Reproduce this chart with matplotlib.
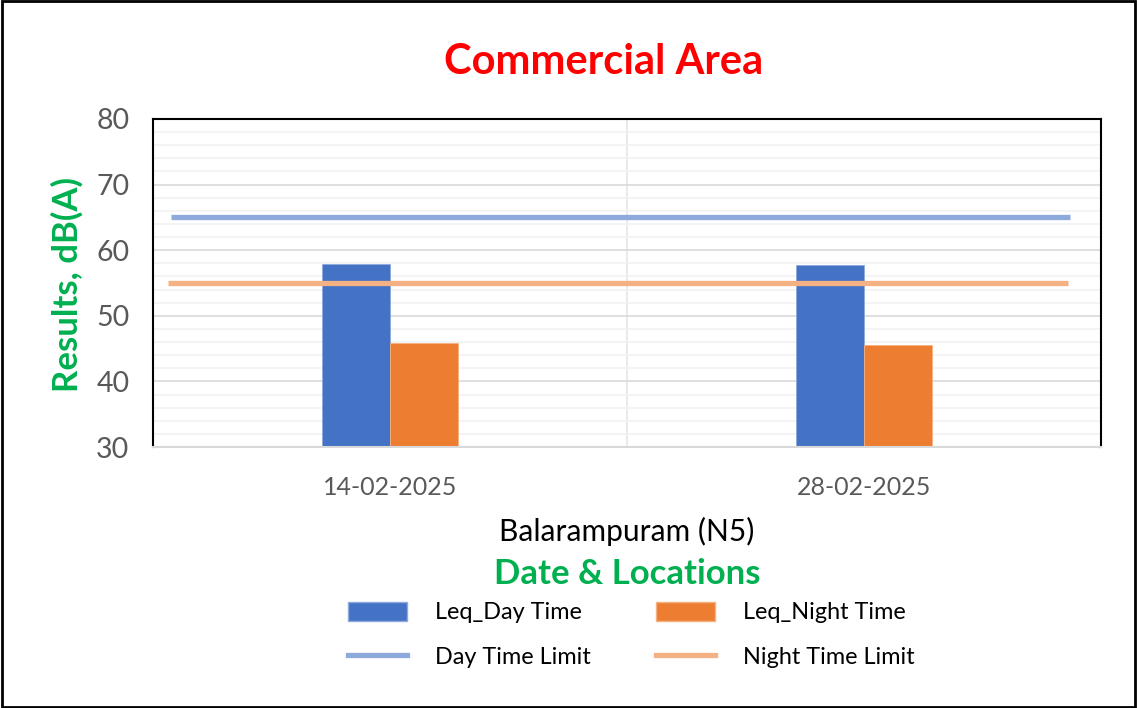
import matplotlib
matplotlib.use("Agg")
import matplotlib.pyplot as plt
from matplotlib.patches import Rectangle, Patch
from matplotlib.lines import Line2D

plt.rcParams['font.family'] = ['Lato', 'DejaVu Sans']

categories = ["14-02-2025", "28-02-2025"]
leq_day = [57.9, 57.7]
leq_night = [45.8, 45.6]
day_limit = 65
night_limit = 55
location = "Balarampuram (N5)"

fig = plt.figure(figsize=(11.37, 7.08), dpi=100)
ax = fig.add_axes([153/1137, 1-447/708, (1101-153)/1137, (447-119)/708])

x = list(range(len(categories)))
w = 0.1435
ax.bar([i - w for i in x], leq_day, width=w, align='edge', color='#4472C4',
       edgecolor='#8FAADC', linewidth=0.6, zorder=2)
ax.bar(x, leq_night, width=w, align='edge', color='#ED7D31',
       edgecolor='#F4B183', linewidth=0.6, zorder=2)
ax.plot([-0.462, 1.435], [day_limit, day_limit], color='#8EA9DB', lw=3.8, zorder=3,
        solid_capstyle='butt')
ax.plot([-0.468, 1.431], [night_limit, night_limit], color='#F4B183', lw=3.8, zorder=3,
        solid_capstyle='butt')

ax.set_xlim(-0.5, 1.5)
ax.set_ylim(30, 80)
ax.set_yticks(range(30, 81, 10))
ax.set_yticks(range(30, 81, 2), minor=True)
ax.set_xticks(x)
ax.set_xticklabels(categories)
ax.set_xticks([0.5], minor=True)
ax.tick_params(axis='y', which='both', length=0, pad=17, labelsize=20.5, labelcolor='#595959')
ax.tick_params(axis='x', which='both', length=0, pad=21, labelsize=18, labelcolor='#595959')
ax.yaxis.grid(True, which='minor', color='#F2F2F2', lw=1.2, zorder=0)
ax.yaxis.grid(True, which='major', color='#D9D9D9', lw=1.2, zorder=0)
ax.xaxis.grid(True, which='minor', color='#E6E6E6', lw=1.2, zorder=0)
ax.set_axisbelow(True)
for s in ['top', 'left', 'right']:
    ax.spines[s].set_color('black')
    ax.spines[s].set_linewidth(1.5)
ax.spines['bottom'].set_color('#D9D9D9')
ax.spines['bottom'].set_linewidth(1.5)

fig.text(604/1137, 1-62/708, "Commercial Area", color='#FF0000', fontsize=30,
         fontweight='bold', ha='center', va='center')
fig.text(67/1137, 1-285/708, "Results, dB(A)", color='#00B050', fontsize=25,
         fontweight='bold', rotation=90, ha='center', va='center')
fig.text(627/1137, 1-531/708, location, color='black', fontsize=21.5,
         ha='center', va='center')
fig.text(627/1137, 1-574/708, "Date & Locations", color='#00B050', fontsize=25,
         fontweight='bold', ha='center', va='center')

handles = [Patch(facecolor='#4472C4', edgecolor='#8FAADC'),
           Line2D([], [], color='#8EA9DB', lw=3.8),
           Patch(facecolor='#ED7D31', edgecolor='#F4B183'),
           Line2D([], [], color='#F4B183', lw=3.8)]
labels = ["Leq_Day Time", "Day Time Limit", "Leq_Night Time", "Night Time Limit"]
fig.legend(handles, labels, ncol=2, loc='center', bbox_to_anchor=(631/1137, 1-635/708),
           frameon=False, fontsize=16.8, handlelength=2.53, handleheight=0.85,
           handletextpad=1.2, columnspacing=2.8, labelspacing=1.0)

fig.add_artist(Rectangle((0.002, 0.002), 0.996, 0.996, transform=fig.transFigure,
                         fill=False, edgecolor='black', lw=2))
fig.savefig("out.png", dpi=100)
